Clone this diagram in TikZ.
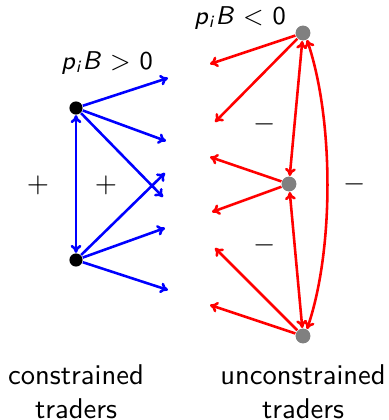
\documentclass[tikz,border=0pt]{standalone}
\usetikzlibrary{arrows.meta}
\begin{document}
\begin{tikzpicture}[x=0.35pt,y=-0.35pt,font=\sffamily,
  con/.style={circle,fill=black,inner sep=0pt,minimum size=4.6pt},
  uncon/.style={circle,fill=gray,inner sep=0pt,minimum size=5.2pt},
  tip/.style={To[length=2.8pt,width=3.8pt]},
  barr/.style={blue,line width=0.9pt,-{To[length=2.8pt,width=3.8pt]}},
  rarr/.style={red,line width=0.9pt,-{To[length=2.8pt,width=3.8pt]}},
  bdbl/.style={blue,line width=0.9pt,{To[length=2.8pt,width=3.8pt]}-{To[length=2.8pt,width=3.8pt]}},
  rdbl/.style={red,line width=0.9pt,{To[length=2.8pt,width=3.8pt]}-{To[length=2.8pt,width=3.8pt]}},
  lab/.style={inner sep=0pt}]
\useasboundingbox (0,0) rectangle (389,420);
% constrained
\node[con] (c1) at (76,108) {};
\node[con] (c2) at (76,260) {};
\coordinate (b1) at (168,78);
\coordinate (b2) at (166,141);
\coordinate (b3) at (163,197);
\coordinate (b4) at (165,173);
\coordinate (b5) at (165,228);
\coordinate (b6) at (168,290);
\draw[barr] (c1) -- (b1);
\draw[barr] (c1) -- (b2);
\draw[barr] (c1) -- (b3);
\draw[barr] (c2) -- (b4);
\draw[barr] (c2) -- (b5);
\draw[barr] (c2) -- (b6);
\draw[bdbl] (c1) -- (c2);
% unconstrained
\node[uncon] (u1) at (303,33) {};
\node[uncon] (u2) at (289,184) {};
\node[uncon] (u3) at (303,336) {};
\coordinate (r1) at (210,64);
\coordinate (r2) at (215,122);
\coordinate (r3) at (210,157);
\coordinate (r4) at (212,212);
\coordinate (r5) at (215,248);
\coordinate (r6) at (210,305);
\draw[rarr] (u1) -- (r1);
\draw[rarr] (u1) -- (r2);
\draw[rarr] (u2) -- (r3);
\draw[rarr] (u2) -- (r4);
\draw[rarr] (u3) -- (r5);
\draw[rarr] (u3) -- (r6);
\draw[rdbl] (u1) -- (u2);
\draw[rdbl] (u2) -- (u3);
\draw[rdbl] (u1.-60) .. controls (334,120) and (334,250) .. (u3.60);
% labels
\node[lab,font=\sffamily\small] (pl1) at (107,63) {\textit{p}\textsubscript{\textit{i}}\textit{B} $>$ 0};
\node[lab,font=\sffamily\small] (pl2) at (240,18) {\textit{p}\textsubscript{\textit{i}}\textit{B} $<$ 0};
\node[lab] (s1) at (38,185) {$+$};
\node[lab] (s2) at (106,185) {$+$};
\node[lab] (s3) at (265,124) {$-$};
\node[lab] (s4) at (265,245) {$-$};
\node[lab] (s5) at (355,184) {$-$};
\node[lab,align=center] (t1) at (76,392) {constrained\\traders};
\node[lab,align=center] (t2) at (303,392) {unconstrained\\traders};
\end{tikzpicture}
\end{document}
